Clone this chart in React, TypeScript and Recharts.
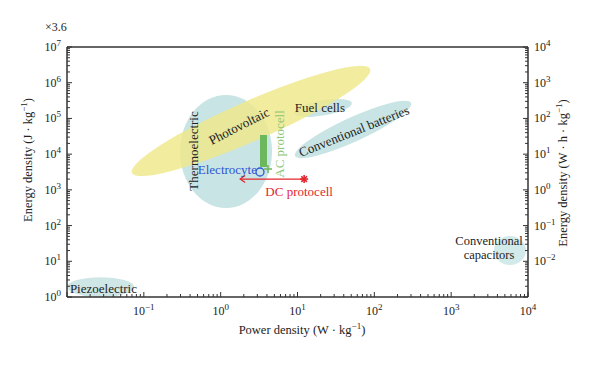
import React from 'react'
import { ComposedChart, XAxis, YAxis, Scatter, ReferenceArea, ReferenceLine, ReferenceDot, Customized } from 'recharts'

const FONT = 'Liberation Serif, DejaVu Serif, serif'
const AXIS = '#333333'
const INK = '#222222'
const RED = '#e3262d'
const BLUE = '#2f55d4'
const GREEN = '#6db85c'
const LIGHT_GREEN = '#8cc776'

// regions of the Ragone plot: power (W/kg) and energy (J/kg) extents
const regionNames = ['Thermoelectric', 'Fuel cells', 'Conventional batteries', 'Conventional capacitors', 'Piezoelectric', 'Photovoltaic']
const regionPowerFrom = [0.296, 9.0, 9.3, 3610, 0.01, 0.07]
const regionPowerTo = [4.66, 51, 300, 9420, 0.075, 88]
const regionEnergyFrom = [311, 1.42e5, 8870, 7.9, 1, 2970]
const regionEnergyTo = [4.54e5, 2.71e5, 2.71e5, 51, 3.6, 2.43e6]

// protocell / electrocyte marks
const electrocyte = [{ power: 3.25, energy: 3160 }]
const acProtocellPower = 3.61
const acProtocellEnergy = [4370, 34400]
const acMarker = [{ power: 4.13, energy: 3840 }]
const dcProtocell = [{ power: 12.2, energy: 2010 }]
const dcArrowTip = [{ power: 1.79, energy: 2010 }]

// annotation texts
const labelText = ['Photovoltaic', 'Thermoelectric', 'Fuel cells', 'Conventional batteries', 'Electrocyte', 'AC protocell', 'DC protocell', 'Conventional', 'capacitors', 'Piezoelectric']
const labelPower = [1.73, 0.436, 19.6, 54.3, 2.97, 5.74, 10.5, 3110, 3110, 0.0109]
const labelEnergy = [6.15e4, 1.23e4, 2.09e5, 4.45e4, 3840, 1.93e4, 929, 38.5, 15.8, 1.79]

// axes
const powerDecades = [-2, -1, 0, 1, 2, 3, 4]
const powerLabelled = [-1, 0, 1, 2, 3, 4]
const energyDecades = [0, 1, 2, 3, 4, 5, 6, 7]
const energyLabelled = [0, 1, 2, 3, 4, 5, 6, 7]
const whDecades = [-3, -2, -1, 0, 1, 2, 3, 4]
const whLabelled = [-2, -1, 0, 1, 2, 3, 4]

const regionStyle: Record<string, { tilt: boolean; half?: number; fill: string; opacity: number }> = {
  'Thermoelectric': { tilt: false, fill: '#c9e4e4', opacity: 1 },
  'Fuel cells': { tilt: true, half: 7.5, fill: '#c9e4e4', opacity: 1 },
  'Conventional batteries': { tilt: true, half: 12, fill: '#c9e4e4', opacity: 1 },
  'Conventional capacitors': { tilt: false, fill: '#d3eaea', opacity: 1 },
  'Piezoelectric': { tilt: false, fill: '#cfe6e6', opacity: 1 },
  'Photovoltaic': { tilt: true, half: 20, fill: '#efe88a', opacity: 0.82 },
}

const labelStyle: Record<string, { angle: number; anchor: 'start' | 'middle' | 'end'; color: string; size: number }> = {
  'Photovoltaic': { angle: -27, anchor: 'middle', color: INK, size: 13 },
  'Thermoelectric': { angle: -90, anchor: 'middle', color: INK, size: 13 },
  'Fuel cells': { angle: 0, anchor: 'middle', color: INK, size: 13 },
  'Conventional batteries': { angle: -21.7, anchor: 'middle', color: INK, size: 13 },
  'Electrocyte': { angle: 0, anchor: 'end', color: BLUE, size: 13 },
  'AC protocell': { angle: -90, anchor: 'middle', color: LIGHT_GREEN, size: 13 },
  'DC protocell': { angle: 0, anchor: 'middle', color: RED, size: 13 },
  'Conventional': { angle: 0, anchor: 'middle', color: INK, size: 12.5 },
  'capacitors': { angle: 0, anchor: 'middle', color: INK, size: 12.5 },
  'Piezoelectric': { angle: 0, anchor: 'start', color: INK, size: 13 },
}

const logTicks = (decades: number[]) => {
  const out: number[] = []
  decades.forEach((d, i) => {
    if (i === decades.length - 1) { out.push(Math.pow(10, d)); return }
    for (let m = 1; m <= 9; m++) out.push(m * Math.pow(10, d))
  })
  return out
}

const decadeOf = (v: number) => {
  const l = Math.log10(v)
  const e = Math.round(l)
  return Math.abs(l - e) < 1e-6 ? e : null
}

const expText = (e: number) => (e < 0 ? '\u2212' + Math.abs(e) : String(e))

const Pow = ({ e }: { e: number }) => (
  <>
    10<tspan dy={-5} fontSize={9}>{expText(e)}</tspan>
  </>
)

const makeTick = (side: 'bottom' | 'top' | 'left' | 'right', labelled: number[]) => (p: any) => {
  const { x, y, payload } = p
  const e = decadeOf(payload.value)
  const len = e !== null ? 5 : 3
  const show = e !== null && labelled.includes(e)
  let line
  let label = null
  if (side === 'bottom') {
    line = <line x1={x} x2={x} y1={y} y2={y - len} stroke={AXIS} strokeWidth={1} />
    if (show) label = <text x={x} y={y + 18} textAnchor="middle" fontFamily={FONT} fontSize={12} fill={INK}><Pow e={e as number} /></text>
  } else if (side === 'top') {
    line = <line x1={x} x2={x} y1={y} y2={y + len} stroke={AXIS} strokeWidth={1} />
  } else if (side === 'left') {
    line = <line x1={x} x2={x + len} y1={y} y2={y} stroke={AXIS} strokeWidth={1} />
    if (show) label = <text x={x - 6} y={y + 4} textAnchor="end" fontFamily={FONT} fontSize={12} fill={INK}><Pow e={e as number} /></text>
  } else {
    line = <line x1={x} x2={x - len} y1={y} y2={y} stroke={AXIS} strokeWidth={1} />
    if (show) label = <text x={x + 6} y={y + 4} textAnchor="start" fontFamily={FONT} fontSize={12} fill={INK}><Pow e={e as number} /></text>
  }
  return <g>{line}{label}</g>
}

const regionShape = (name: string) => (p: any) => {
  const { x, y, width, height } = p
  const st = regionStyle[name]
  const cx = x + width / 2
  const cy = y + height / 2
  if (st.tilt) {
    const rx = Math.hypot(width, height) / 2
    const ang = (-Math.atan2(height, width) * 180) / Math.PI
    return <ellipse cx={cx} cy={cy} rx={rx} ry={st.half} fill={st.fill} fillOpacity={st.opacity} transform={`rotate(${ang} ${cx} ${cy})`} />
  }
  return <ellipse cx={cx} cy={cy} rx={width / 2} ry={height / 2} fill={st.fill} fillOpacity={st.opacity} />
}

const labelShape = (text: string) => (p: any) => {
  const { cx, cy } = p
  const st = labelStyle[text]
  return (
    <text x={cx} y={cy} dy="0.35em" textAnchor={st.anchor} fontFamily={FONT} fontSize={st.size} fill={st.color}
      transform={st.angle ? `rotate(${st.angle} ${cx} ${cy})` : undefined}>
      {text}
    </text>
  )
}

const OpenCircle = (p: any) => <circle cx={p.cx} cy={p.cy} r={4} fill="none" stroke={BLUE} strokeWidth={1.3} />
const Plus = (p: any) => (
  <g stroke={GREEN} strokeWidth={1.5}>
    <line x1={p.cx - 4} x2={p.cx + 4} y1={p.cy} y2={p.cy} />
    <line x1={p.cx} x2={p.cx} y1={p.cy - 4} y2={p.cy + 4} />
  </g>
)
const Asterisk = (p: any) => (
  <g stroke={RED} strokeWidth={1.6}>
    {[0, 45, 90, 135].map((a) => {
      const r = (a * Math.PI) / 180
      return <line key={a} x1={p.cx - 4 * Math.cos(r)} x2={p.cx + 4 * Math.cos(r)} y1={p.cy - 4 * Math.sin(r)} y2={p.cy + 4 * Math.sin(r)} />
    })}
  </g>
)
const ArrowHead = (p: any) => (
  <polyline points={`${p.cx + 5},${p.cy - 3.5} ${p.cx},${p.cy} ${p.cx + 5},${p.cy + 3.5}`} fill="none" stroke={RED} strokeWidth={1.2} />
)

const Titles = () => (
  <g fontFamily={FONT} fill={INK} fontSize={12.5}>
    <text x={37} y={23} fontSize={12}>×3.6</text>
    <text transform="translate(24,152) rotate(-90)" textAnchor="middle">
      Energy density (J · kg<tspan dy={-5} fontSize={9}>{'\u22121'}</tspan><tspan dy={5}>)</tspan>
    </text>
    <text transform="translate(559,165) rotate(-90)" textAnchor="middle">
      Energy density (W · h · kg<tspan dy={-5} fontSize={9}>{'\u22121'}</tspan><tspan dy={5}>)</tspan>
    </text>
    <text x={294} y={326} textAnchor="middle">
      Power density (W · kg<tspan dy={-5} fontSize={9}>{'\u22121'}</tspan><tspan dy={5}>)</tspan>
    </text>
  </g>
)

const axisLine = { stroke: AXIS, strokeWidth: 1.5 }

export default function App() {
  return (
    <div style={{ width: 584, height: 350, fontFamily: FONT }}>
      <ComposedChart width={584} height={350} margin={{ top: 29, right: 19, bottom: 21, left: 14 }}>
        <XAxis xAxisId="b" dataKey="power" type="number" scale="log" domain={[0.01, 10000]} allowDataOverflow
          ticks={logTicks(powerDecades)} interval={0} tickSize={0} tickMargin={0} tickLine={false}
          axisLine={axisLine} height={40} tick={makeTick('bottom', powerLabelled)} />
        <XAxis xAxisId="t" orientation="top" type="number" scale="log" domain={[0.01, 10000]} allowDataOverflow
          ticks={logTicks(powerDecades)} interval={0} tickSize={0} tickMargin={0} tickLine={false}
          axisLine={axisLine} height={10} tick={makeTick('top', [])} />
        <YAxis yAxisId="l" dataKey="energy" type="number" scale="log" domain={[1, 1e7]} allowDataOverflow
          ticks={logTicks(energyDecades)} interval={0} tickSize={0} tickMargin={0} tickLine={false}
          axisLine={axisLine} width={45} tick={makeTick('left', energyLabelled)} />
        <YAxis yAxisId="r" orientation="right" type="number" scale="log" domain={[0.001, 1e4]} allowDataOverflow
          ticks={logTicks(whDecades)} interval={0} tickSize={0} tickMargin={0} tickLine={false}
          axisLine={axisLine} width={45} tick={makeTick('right', whLabelled)} />

        {regionNames.map((name, i) => (
          <ReferenceArea key={name} xAxisId="b" yAxisId="l"
            x1={regionPowerFrom[i]} x2={regionPowerTo[i]} y1={regionEnergyFrom[i]} y2={regionEnergyTo[i]}
            ifOverflow="visible" shape={regionShape(name)} />
        ))}

        <ReferenceLine xAxisId="b" yAxisId="l" stroke={GREEN} strokeWidth={7}
          segment={[{ x: acProtocellPower, y: acProtocellEnergy[0] }, { x: acProtocellPower, y: acProtocellEnergy[1] }]} />
        <ReferenceLine xAxisId="b" yAxisId="l" stroke={RED} strokeWidth={1.2}
          segment={[{ x: dcProtocell[0].power, y: dcProtocell[0].energy }, { x: dcArrowTip[0].power, y: dcArrowTip[0].energy }]} />

        <Scatter xAxisId="b" yAxisId="l" data={electrocyte} dataKey="energy" shape={OpenCircle} isAnimationActive={false} />
        <Scatter xAxisId="b" yAxisId="l" data={acMarker} dataKey="energy" shape={Plus} isAnimationActive={false} />
        <Scatter xAxisId="b" yAxisId="l" data={dcProtocell} dataKey="energy" shape={Asterisk} isAnimationActive={false} />
        <Scatter xAxisId="b" yAxisId="l" data={dcArrowTip} dataKey="energy" shape={ArrowHead} isAnimationActive={false} />

        {labelText.map((t, i) => (
          <ReferenceDot key={t} xAxisId="b" yAxisId="l" x={labelPower[i]} y={labelEnergy[i]} r={0}
            ifOverflow="visible" shape={labelShape(t)} />
        ))}

        <Customized component={Titles} />
      </ComposedChart>
    </div>
  )
}
